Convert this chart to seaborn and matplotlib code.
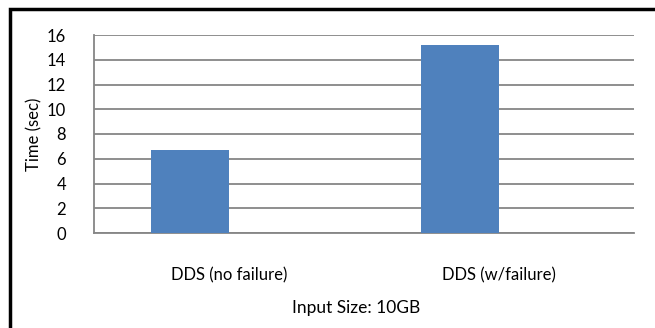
import seaborn as sns
import matplotlib.pyplot as plt
import matplotlib.patches as patches
import pandas as pd

categories = ["DDS (no failure)", "DDS (w/failure)"]
times = [6.7, 15.2]
yticks = [0, 2, 4, 6, 8, 10, 12, 14, 16]

# Excel-style chart: one series drawn in the left slot of two
df = pd.DataFrame({"cat": categories, "time": times, "series": "Time"})

sns.set_style("white")
plt.rcParams['font.family'] = ['Lato', 'DejaVu Sans']
plt.rcParams['text.color'] = 'black'

fig = plt.figure(figsize=(6.55, 3.28), dpi=100)
ax = fig.add_axes([94 / 655, 1 - 233 / 328, 540 / 655, 198 / 328])

sns.barplot(data=df, x="cat", y="time", hue="series",
            hue_order=["Time", "None"], palette=["#4f81bd", "#c0504d"],
            width=0.58, dodge=True, saturation=1, linewidth=0,
            legend=False, ax=ax, zorder=3)

ax.set_ylim(0, 16)
ax.set_xlim(-0.5, 1.5)
ax.set_yticks(yticks)
ax.yaxis.grid(True, color="#868686", linewidth=1.3, zorder=0)
ax.set_axisbelow(True)
for s in ["top", "right"]:
    ax.spines[s].set_visible(False)
for s in ["left", "bottom"]:
    ax.spines[s].set_color("#868686")
    ax.spines[s].set_linewidth(1.3)

# category labels drawn between boundary ticks
ax.set_xticks([-0.5, 0.5, 1.5])
ax.set_xticklabels([])
ax.set_xticks([0, 1], minor=True)
ax.set_xticklabels(categories, minor=True, fontsize=12)
ax.tick_params(axis="x", which="major", direction="out", length=6, width=1.3,
               color="#868686")
ax.tick_params(axis="x", which="minor", length=0, pad=25, labelcolor="black")
ax.tick_params(axis="y", direction="out", length=6, width=1.3, color="#868686",
               labelsize=12, pad=14, labelcolor="black")

ax.set_ylabel("Time (sec)", fontsize=12, labelpad=0, color="black")
ax.yaxis.set_label_coords(-0.095, 0.5)
ax.set_xlabel("Input Size: 10GB", fontsize=12.5, color="black")
ax.xaxis.set_label_coords(0.485, -0.338)

fig.patches.append(patches.Rectangle((10 / 655, -0.1), 1.2, 1.1 - 9 / 328,
                                     transform=fig.transFigure, fill=False,
                                     edgecolor="black", linewidth=2.5))

fig.savefig("out.png", dpi=100)
plt.close()
